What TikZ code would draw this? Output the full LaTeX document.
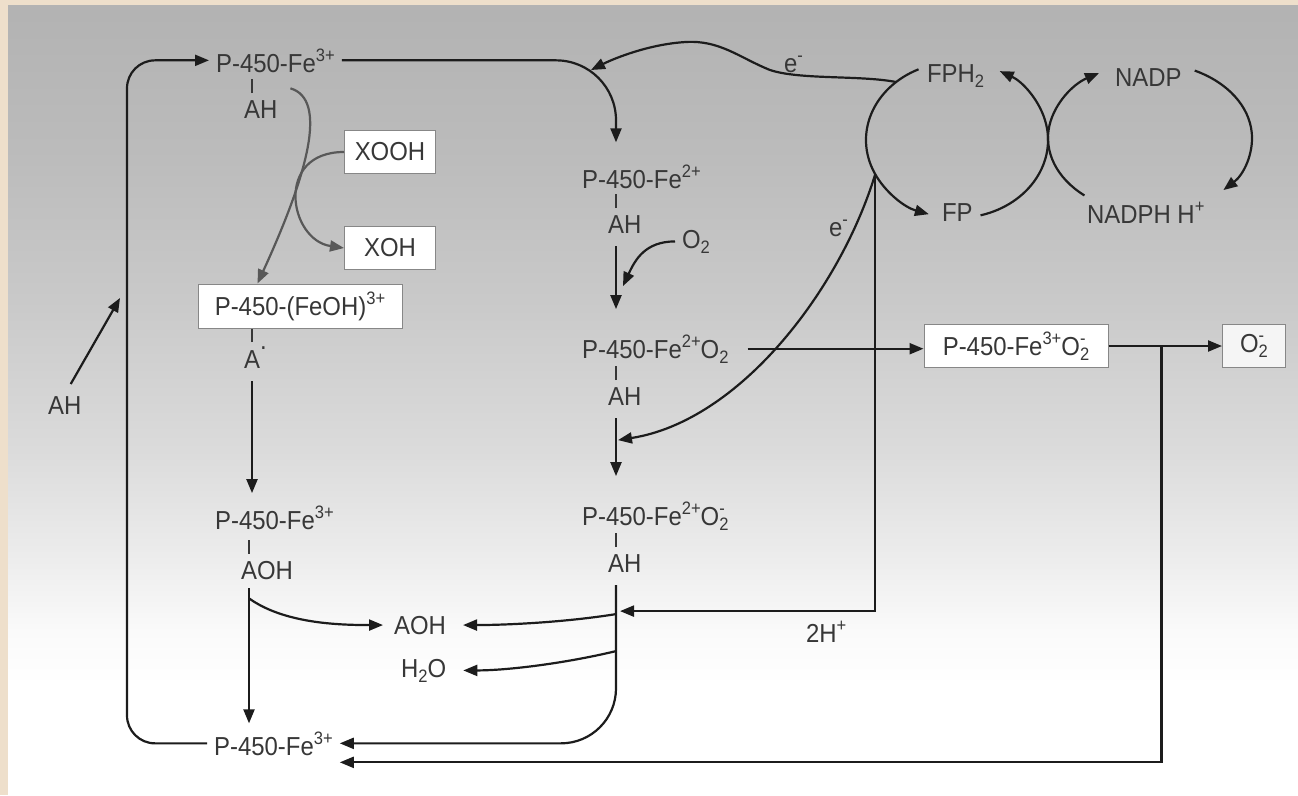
\documentclass[tikz,border=0pt]{standalone}
\usepackage{fontspec}
\setmainfont{Liberation Sans}[FakeStretch=0.92]
\usetikzlibrary{arrows.meta}
\definecolor{paperbg}{RGB}{238,223,203}
\definecolor{txt}{RGB}{55,55,55}
\definecolor{ink}{RGB}{28,28,28}
\definecolor{shuntgray}{RGB}{88,88,88}
\definecolor{boxline}{RGB}{135,135,135}
\pgfdeclareverticalshading{paper}{100bp}{color(0bp)=(white); color(32bp)=(white); color(35.4bp)=(black!2); color(39.8bp)=(black!7); color(46.7bp)=(black!14); color(56.1bp)=(black!21); color(65.6bp)=(black!26.5); color(75bp)=(black!30); color(100bp)=(black!30)}
\newcommand\hi[1]{\raisebox{11pt}{\fontsize{18}{20}\selectfont #1}}
\newcommand\lo[1]{\raisebox{-5pt}{\fontsize{18}{20}\selectfont #1}}
\newcommand\Otwo[1]{O\rlap{\hi{#1}}\lo{2}}
\begin{document}
\begin{tikzpicture}[x=1pt, y=-1pt, line width=2.2pt, color=ink,
  >={Triangle[length=14pt,width=11pt]},
  font=\fontsize{26}{31}\selectfont,
  enz/.style={anchor=base west, inner xsep=6pt, inner ysep=3pt, text=txt},
  box/.style={draw=boxline, fill=white, line width=1pt, inner sep=0pt, minimum height=43pt, text=txt},
  bond/.style={line width=1.2pt, draw=txt},
  shunt/.style={draw=shuntgray}]
\fill[paperbg] (0,0) rectangle (1298,795);
\shade[shading=paper] (8,5) rectangle (1298,795);
\useasboundingbox (0,0) rectangle (1298,795);

\node[enz] (e1)    at (209,72)  {P-450-Fe\hi{3+}};
\node[enz] (ah1)   at (237,118) {AH};
\node[box, minimum width=91pt] (xooh) at (390,152) {XOOH};
\node[box, minimum width=91pt] (xoh)  at (390,248) {XOH};
\node[box, minimum width=204pt, minimum height=44pt] (feoh) at (300,306) {P-450-(FeOH)\hi{3+}};
\node[enz] (arad)  at (237,368) {A\raisebox{19pt}{.}};
\node[enz] (e6)    at (208,529) {P-450-Fe\hi{3+}};
\node[enz] (aoh1)  at (234,579) {AOH};
\node[enz] (aoh2)  at (387,634) {AOH};
\node[enz] (h2o)   at (394,677) {H\lo{2}O};
\node[enz] (e7)    at (207,755) {P-450-Fe\hi{3+}};
\node[enz] (ahin)  at (41,414)  {AH};
\node[enz] (e2)    at (575,188) {P-450-Fe\hi{2+}};
\node[enz] (ah2)   at (601,233) {AH};
\node[enz] (o2)    at (675,248) {O\lo{2}};
\node[enz] (e3)    at (575,358) {P-450-Fe\hi{2+}O\lo{2}};
\node[enz] (ah3)   at (601,405) {AH};
\node[enz] (e4)    at (575,525) {P-450-Fe\hi{2+}\Otwo{-}};
\node[enz] (ah4)   at (601,572) {AH};
\node[box, minimum width=184pt] (fe3o2) at (1016,346) {P-450-Fe\hi{3+}\Otwo{-}};
\node[box, minimum width=63pt, fill=black!4] (o2r) at (1254,346) {\Otwo{-}};
\node[enz] (fph2)  at (920,82)  {FPH\lo{2}};
\node[enz] (fp)    at (935,221) {FP};
\node[enz] (nadp)  at (1108,86) {NADP};
\node[enz] (nadph) at (1080,223) {NADPH H\hi{+}};
\node[enz] (el1)   at (777,72)  {e\hi{-}};
\node[enz] (el2)   at (822,236) {e\hi{-}};
\node[enz] (hplus) at (799,642) {2H\hi{+}};

\coordinate (cfp)  at (957,140);
\coordinate (cnad) at (1150,138);
\coordinate (hit)  at (591,70);
\coordinate (loopin) at (120,298);
\path (cfp) ++(228:91 and 78) coordinate (fu);
\path (cfp) ++(154:91 and 78) coordinate (fl);

\foreach \s in {ah1,ah2,ah3,ah4,aoh1}
  \draw[bond] ([xshift=15pt,yshift=3pt]\s.north west) -- ++(0,-14);
\draw[bond] ([xshift=15pt]arad.north west) -- ++(0,-13);

\draw[->, rounded corners=28pt] (e7.west) -- ++(-80,0) |- (e1.west);
\draw[->] ([xshift=6pt,yshift=8pt]ahin.north) -- (loopin);
\draw[->, rounded corners=60pt] (e1.east) -| ([xshift=41pt,yshift=18pt]e2.north west);
\draw[->] ([xshift=15pt,yshift=-9pt]ah2.south west) -- ++(0,63);
\draw[->] (o2.west) .. controls +(-30,0) and +(12,-26) .. ([xshift=22pt,yshift=-49pt]ah2.south west);
\draw[->] ([xshift=15pt,yshift=-9pt]ah3.south west) -- ++(0,58);
\draw[->] ([xshift=12pt]e3.east) -- (e3.east -| fe3o2.west);
\draw[->] (fe3o2.east) -- (o2r.west);
\draw[->] ([xshift=53pt]fe3o2.east) |- ([yshift=-19pt]e7.east);
\draw[->, rounded corners=55pt] ([xshift=15pt,yshift=-9pt]ah4.south west) |- (e7.east);
\draw[->] ([xshift=15pt,yshift=-38pt]ah4.south west) .. controls +(-50,8) and +(45,0) .. ([xshift=10pt]aoh2.east);
\draw[->] ([xshift=15pt,yshift=-75pt]ah4.south west) .. controls +(-50,12) and +(45,0) .. ([xshift=10pt]h2o.east);

\draw[->, shunt] ([xshift=15pt,yshift=-12pt]e1.south) .. controls +(38,11) and +(50,-109) .. ([xshift=60pt]feoh.north west);
\draw[->, shunt] (xooh.west) .. controls +(-70,0) and +(-55,-8) .. (xoh.west);
\draw[->] ([xshift=15pt,yshift=-9pt]arad.south west) -- ++(0,112);
\draw[->] ([xshift=15pt,yshift=-5pt]aoh1.south west) -- ++(0,135);
\draw[->] ([xshift=15pt,yshift=-15pt]aoh1.south west) .. controls +(35,25) and +(-45,0) .. ([xshift=-4pt]aoh2.west);

\draw[->] (fu) .. controls (860,75) and (800,80) .. (770,70) .. controls (740,58) and (720,40) .. (686,42) .. controls (650,44) and (615,58) .. (hit);
\draw[->] (fl) .. controls +(-35,115) and +(122,-19) .. ([xshift=17pt,yshift=-31pt]ah3.south west);
\draw[->] (fl) |- ([xshift=19pt,yshift=-35pt]ah4.south west);
\draw[->] (cfp) ++(245:91 and 78) arc[start angle=245, end angle=108, x radius=91, y radius=78];
\draw[->] (cfp) ++(75:91 and 78) arc[start angle=75, end angle=-62, x radius=91, y radius=78];
\draw[->] (cnad) ++(130:102 and 75) arc[start angle=130, end angle=240, x radius=102, y radius=75];
\draw[->] (cnad) ++(-64:102 and 75) arc[start angle=-64, end angle=44, x radius=102, y radius=75];
\end{tikzpicture}
\end{document}
